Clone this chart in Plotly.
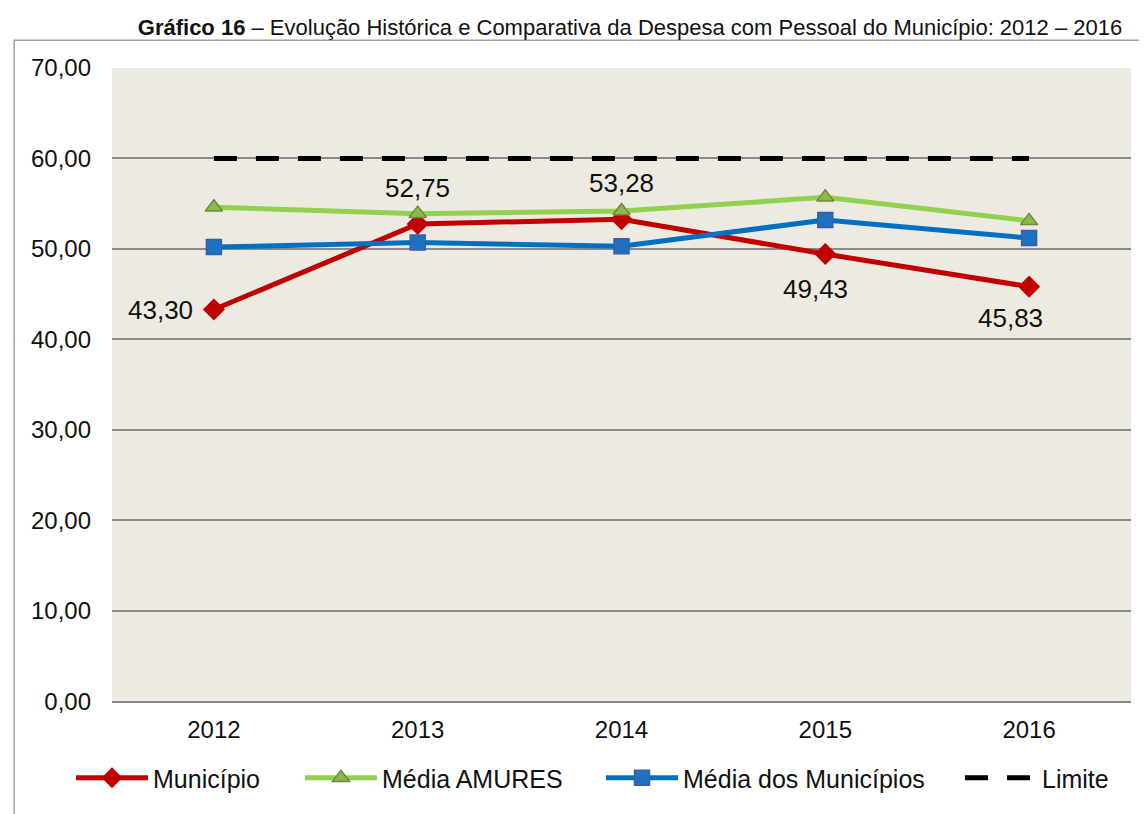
import plotly.graph_objects as go

# dados
anos = ['2012', '2013', '2014', '2015', '2016']
municipio = [43.30, 52.75, 53.28, 49.43, 45.83]
media_amures = [54.6, 53.9, 54.2, 55.7, 53.1]
media_municipios = [50.2, 50.7, 50.3, 53.2, 51.2]
limite = [60, 60, 60, 60, 60]
y_ticks = [0, 10, 20, 30, 40, 50, 60, 70]

rotulos = [f"{v:.2f}".replace('.', ',') for v in municipio]

fig = go.Figure()

fig.add_trace(go.Scatter(
    x=anos, y=municipio, name='Município', mode='lines+markers', legend='legend',
    line=dict(color='#C00000', width=5),
    marker=dict(symbol='diamond', size=17, color='#C00000'),
))
fig.add_trace(go.Scatter(
    x=anos, y=media_amures, name='Média AMURES', mode='lines+markers', legend='legend2',
    line=dict(color='#92D050', width=5),
    marker=dict(symbol='triangle-up', size=15, color='#8DB84A',
                line=dict(color='#6E8A3A', width=1.5)),
))
fig.add_trace(go.Scatter(
    x=anos, y=media_municipios, name='Média dos Municípios', mode='lines+markers', legend='legend3',
    line=dict(color='#0070C0', width=5),
    marker=dict(symbol='square', size=15, color='#1F70C0',
                line=dict(color='#3A5F9F', width=1.5)),
))
fig.add_trace(go.Scatter(
    x=anos, y=limite, name='Limite', mode='lines', legend='legend4',
    line=dict(color='black', width=5, dash='23px,19px'),
))

# rótulos de dados (deslocamentos como no original)
desloc = [(-19, 0, 'right'), (0, 36, 'center'), (0, 36, 'center'),
          (-10, -35, 'center'), (-19, -31, 'center')]
for i, (v, txt, (dx, dy, anc)) in enumerate(zip(municipio, rotulos, desloc)):
    fig.add_annotation(x=i, y=v, xref='x', yref='y', text=txt, showarrow=False,
                       xanchor=anc, yanchor='middle', xshift=dx, yshift=dy,
                       font=dict(size=26, color='#111111'))

# moldura
fig.add_shape(type='rect', xref='paper', yref='paper',
              x0=-0.096, x1=1.03, y0=-0.2, y1=1.044,
              line=dict(color='#A0A0A0', width=1.5), layer='below')


def leg(x_px):
    return dict(orientation='h', xref='container', yref='container',
                x=x_px / 1139, xanchor='left', y=1 - 770 / 806, yanchor='middle',
                font=dict(size=25), itemwidth=72, bgcolor='rgba(0,0,0,0)')


fig.update_layout(
    width=1139, height=806,
    margin=dict(l=104, r=16, t=60, b=107),
    paper_bgcolor='white',
    plot_bgcolor='#EDEBE1',
    separators=',.',
    font=dict(family='Liberation Sans, Arial, sans-serif', size=24, color='#111111'),
    title=dict(
        text='<b>Gráfico 16</b> – Evolução Histórica e Comparativa da Despesa com Pessoal do Município: 2012 – 2016',
        x=622 / 1139, xanchor='center', y=1 - 19 / 806, yanchor='middle',
        font=dict(size=22, color='#111111'),
    ),
    xaxis=dict(type='category', range=[-0.5, 4.5], showgrid=False,
               showline=True, linecolor='#8A8A8A', linewidth=2,
               ticks='', ticklabelstandoff=6),
    yaxis=dict(range=[0, 70], tickvals=y_ticks, tickformat='.2f',
               showgrid=True, gridcolor='#8A8A8A', gridwidth=2,
               zeroline=False, ticks='', ticklabelstandoff=20),
    legend=leg(63), legend2=leg(292), legend3=leg(593), legend4=leg(952),
    showlegend=True,
)

fig.write_html("out.html")
